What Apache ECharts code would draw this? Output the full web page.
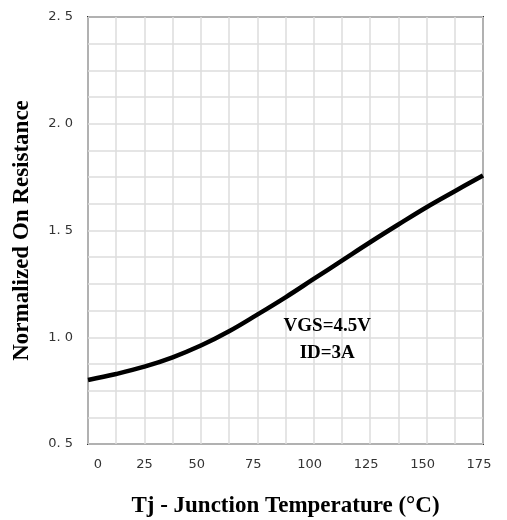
<!DOCTYPE html>
<html>
<head>
<meta charset="utf-8">
<script src="https://cdn.jsdelivr.net/npm/echarts@6/dist/echarts.min.js"></script>
<style>
html,body{margin:0;padding:0;background:#fff;}
#c{width:507px;height:520px;}
</style>
</head>
<body>
<div id="c"></div>
<script>
// Data
var temperatures = [0, 12.5, 25, 37.5, 50, 62.5, 75, 87.5, 100, 112.5, 125, 137.5, 150, 162.5, 175];
var resistance = [0.80, 0.828, 0.862, 0.906, 0.961, 1.028, 1.106, 1.187, 1.273, 1.359, 1.445, 1.528, 1.609, 1.684, 1.758];
var xTickLabels = [0, 25, 50, 75, 100, 125, 150, 175];
var yTickLabels = [0.5, 1.0, 1.5, 2.0, 2.5];
var annotationText = ['VGS=4.5V', 'ID=3A'];
var annotationAt = [106, 0.99];

var chart = echarts.init(document.getElementById('c'), null, {renderer: 'canvas'});
var serif = '"Liberation Serif", "Times New Roman", serif';
var sans = '"DejaVu Sans", Verdana, sans-serif';

var option = {
  backgroundColor: '#ffffff',
  animation: false,
  grid: {
    left: 88, top: 17, right: 24, bottom: 76,
    containLabel: false,
    outerBoundsMode: 'none',
    show: true, borderColor: '#333333', borderWidth: 2, backgroundColor: 'transparent'
  },
  xAxis: {
    type: 'value', min: 0, max: 175, interval: 12.5,
    name: 'Tj - Junction Temperature (°C)',
    nameLocation: 'middle', nameGap: 51,
    nameTextStyle: {fontFamily: serif, fontWeight: 'bold', fontSize: 23, color: '#000'},
    axisLine: {show: false},
    axisTick: {show: false},
    splitLine: {show: true, lineStyle: {color: '#dcdcdc', width: 1.5}},
    axisLabel: {
      margin: 14,
      fontFamily: sans, fontSize: 13, color: '#333',
      formatter: function (v) {
        if (xTickLabels.indexOf(v) < 0) return '';
        if (v === 0) return '{z|' + v + '}';
        if (v === 25) return '{n|' + v + '}';
        return '{s|' + v + '}';
      },
      rich: {
        z: {fontFamily: sans, fontSize: 13, color: '#333', padding: [0, 0, 0, 20]},
        n: {fontFamily: sans, fontSize: 13, color: '#333'},
        s: {fontFamily: sans, fontSize: 13, color: '#333', padding: [0, 8, 0, 0]}
      }
    }
  },
  yAxis: {
    type: 'value', min: 0.5, max: 2.5, interval: 0.125,
    name: 'Normalized On Resistance',
    nameLocation: 'middle', nameGap: 54,
    nameTextStyle: {fontFamily: serif, fontWeight: 'bold', fontSize: 23, color: '#000'},
    axisLine: {show: false},
    axisTick: {show: false},
    splitLine: {show: true, lineStyle: {color: '#dcdcdc', width: 1.5}},
    axisLabel: {
      margin: 15,
      fontFamily: sans, fontSize: 13, color: '#333',
      formatter: function (v) {
        for (var i = 0; i < yTickLabels.length; i++) {
          if (Math.abs(yTickLabels[i] - v) < 1e-9) return yTickLabels[i].toFixed(1).replace('.', '. ');
        }
        return '';
      }
    }
  },
  series: [{
    type: 'line',
    data: temperatures.map(function (t, i) { return [t, resistance[i]]; }),
    smooth: 0.4,
    symbol: 'none',
    lineStyle: {color: '#000', width: 4.5},
    markPoint: {
      symbol: 'circle', symbolSize: 0,
      data: [{coord: annotationAt}],
      label: {
        show: true, position: 'inside',
        formatter: annotationText.join('\n'),
        fontFamily: serif, fontWeight: 'bold', fontSize: 19, lineHeight: 27, color: '#000'
      }
    }
  }]
};
chart.setOption(option);
</script>
</body>
</html>
